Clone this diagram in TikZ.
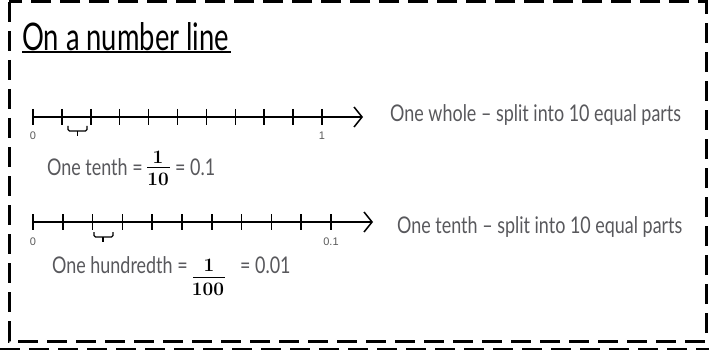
\documentclass[tikz,border=0pt]{standalone}
\usepackage{fontspec}
\newfontfamily\hand[FakeStretch=0.78]{Lato}
\newfontfamily\handT[FakeStretch=0.72]{Lato}
\newfontfamily\labfont{Liberation Sans}
\usetikzlibrary{arrows.meta}
\definecolor{handcol}{RGB}{88,88,92}
\definecolor{tickcol}{RGB}{90,90,90}
\tikzset{
  frame/.style={line width=3pt, dash pattern=on 20pt off 9pt},
  numline/.style={line width=1.5pt, -{Straight Barb[length=8pt,width=20pt,line width=1.5pt]}},
  tickmark/.style={line width=1.5pt},
  ticklab/.style={font=\labfont\fontsize{11}{11}\selectfont, text=tickcol, inner sep=0pt},
  handtxt/.style={font=\hand\fontsize{23}{23}\selectfont, text=handcol, inner sep=0pt, anchor=west},
  fracnum/.style={font=\fontsize{19}{19}\selectfont\bfseries, inner sep=0pt},
  bracemark/.style={line width=1.2pt, rounded corners=1.5pt},
}
\begin{document}
\begin{tikzpicture}[x=1pt,y=-1pt]
\useasboundingbox (0,0) rectangle (709,350);
% frame
\draw[frame] (9,2) rectangle (706,341);
\draw[frame] (0,349) -- (709,349);
% title
\node[font=\handT\fontsize{38}{38}\selectfont, inner sep=0pt, anchor=west] (title) at (22,37) {On a number line};
\draw[line width=2pt] (22,52) -- (231,52);
% number line 1
\coordinate (a0) at (33,117);
\coordinate (a1) at (363,117);
\draw[numline] (a0) -- (a1);
\foreach \i in {0,...,10} {
  \draw[tickmark] ({33+28.9*\i},109) -- ({33+28.9*\i},125);
}
\node[ticklab] (z1) at (33,136) {0};
\node[ticklab] (o1) at (322,136) {1};
\draw[bracemark] (68,126) |- (87,131) -- (87,126);
\draw[line width=1.2pt] (77.5,131) -- (77.5,136);
\node[handtxt] (t1) at (47,167) {One tenth =};
\node[fracnum] (n1) at (158,157) {1};
\node[fracnum] (d1) at (158,179) {10};
\draw[line width=1pt] (147,167.5) -- (170,167.5);
\node[handtxt] (v1) at (175,167) {= 0.1};
\node[handtxt] (r1) at (390,115) {One whole – split into 10 equal parts};
% number line 2
\coordinate (b0) at (33,222);
\coordinate (b1) at (373,222);
\draw[numline] (b0) -- (b1);
\foreach \i in {0,...,10} {
  \draw[tickmark] ({33+29.8*\i},214) -- ({33+29.8*\i},230);
}
\node[ticklab] (z2) at (33,242) {0};
\node[ticklab] (o2) at (331,242) {0.1};
\draw[bracemark] (94,232) |- (113,237) -- (113,232);
\draw[line width=1.2pt] (103,237) -- (103,242);
\node[handtxt] (t2) at (52,265) {One hundredth =};
\node[fracnum] (n2) at (209,265) {1};
\node[fracnum] (d2) at (208,289.5) {100};
\draw[line width=1pt] (193,277) -- (225,277);
\node[handtxt] (v2) at (240,265) {= 0.01};
\node[handtxt] (r2) at (397,227) {One tenth – split into 10 equal parts};
\end{tikzpicture}
\end{document}
